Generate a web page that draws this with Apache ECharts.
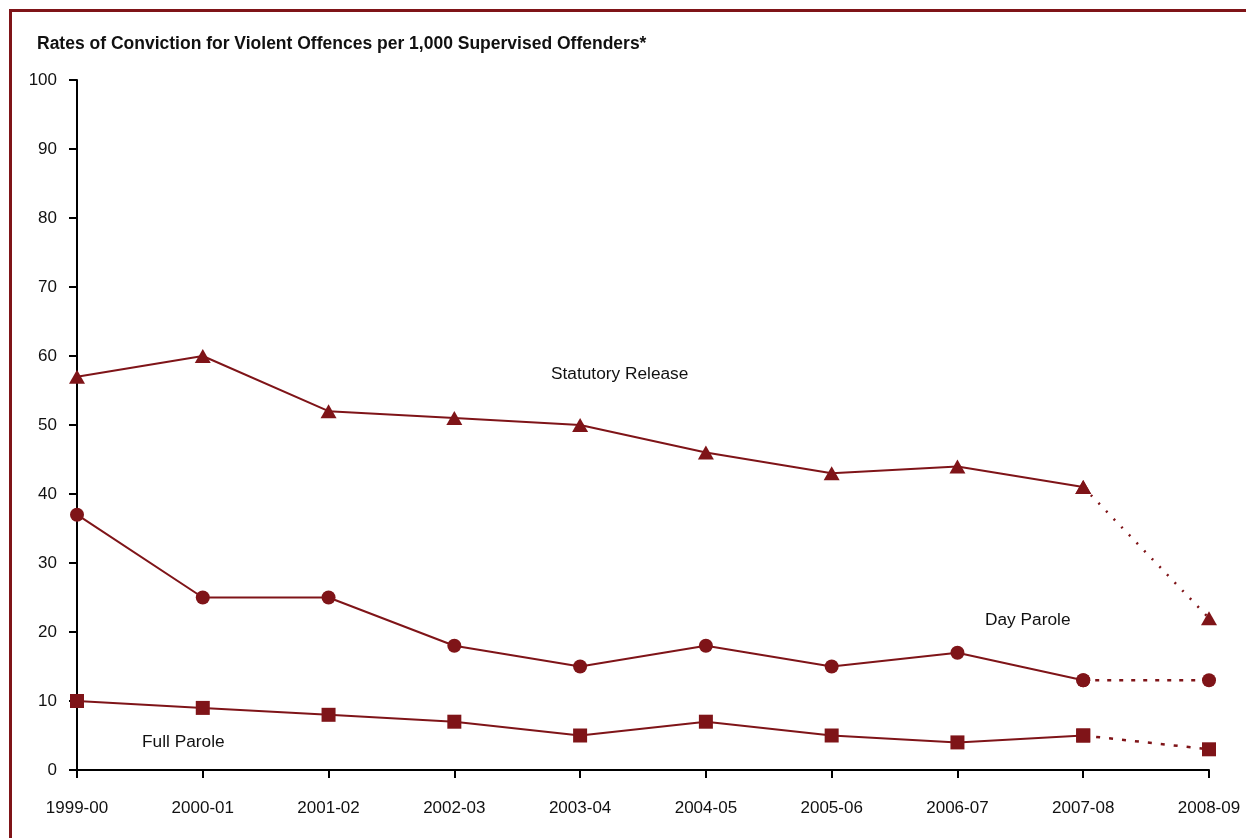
<!DOCTYPE html>
<html><head><meta charset="utf-8">
<script src="https://cdn.jsdelivr.net/npm/echarts@6/dist/echarts.min.js"></script>
<style>html,body{margin:0;padding:0;background:#fff}#c{width:1246px;height:838px}</style>
</head><body><div id="c"></div>
<script>
const categories = ['1999-00','2000-01','2001-02','2002-03','2003-04','2004-05','2005-06','2006-07','2007-08','2008-09'];
const statutoryRelease = [57, 60, 52, 51, 50, 46, 43, 44, 41, 22];
const dayParole = [37, 25, 25, 18, 15, 18, 15, 17, 13, 13];
const fullParole = [10, 9, 8, 7, 5, 7, 5, 4, 5, 3];
const yTicks = [0,10,20,30,40,50,60,70,80,90,100];

const C = '#7f1418';
const FONT = '"Liberation Sans", Arial, sans-serif';
const solid = a => a.map((v,i)=> i < a.length-1 ? v : null);
const dotted = a => a.map((v,i)=> i >= a.length-2 ? v : null);

function mk(name, arr, symbol, size, dash){
  return [
    {name, type:'line', data: solid(arr), symbol, symbolSize:size, showAllSymbol:true,
     lineStyle:{color:C,width:2}, itemStyle:{color:C}, connectNulls:false, z:3},
    {name: name+' (dotted)', type:'line', data: dotted(arr), symbol, symbolSize:size, showAllSymbol:true,
     lineStyle:{color:C,width:2.5,type:dash}, itemStyle:{color:C}, z:2}
  ];
}

const chart = echarts.init(document.getElementById('c'), null, {renderer:'canvas'});
chart.setOption({
  animation:false,
  backgroundColor:'#fff',
  grid:{left:77, right:37, top:80, bottom:68, containLabel:false},
  xAxis:{type:'category', data:categories, boundaryGap:false,
    axisLine:{lineStyle:{color:'#000',width:2}},
    axisTick:{show:true, alignWithLabel:true, length:8, inside:false, lineStyle:{color:'#000',width:2}},
    axisLabel:{color:'#111', fontFamily:FONT, fontSize:17, margin:30},
    splitLine:{show:false}},
  yAxis:{type:'value', min:yTicks[0], max:yTicks[yTicks.length-1], interval:10,
    axisLine:{show:true, lineStyle:{color:'#000',width:2}},
    axisTick:{show:true, length:8, lineStyle:{color:'#000',width:2}},
    axisLabel:{color:'#111', fontFamily:FONT, fontSize:17, margin:20},
    splitLine:{show:false}},
  series:[
    ...mk('Statutory Release', statutoryRelease, 'triangle', [16,14], [2,9]),
    ...mk('Day Parole', dayParole, 'circle', 14, [4,8]),
    ...mk('Full Parole', fullParole, 'rect', 14, [4,9])
  ],
  graphic:[
    {type:'rect', silent:true, shape:{x:10.5, y:10.5, width:1400, height:1000},
     style:{fill:null, stroke:C, lineWidth:3}},
    {type:'text', left:37, top:35, style:{text:'Rates of Conviction for Violent Offences per 1,000 Supervised Offenders*',
      font:'bold 17.5px '+FONT, fill:'#111'}},
    {type:'text', left:551, top:366, style:{text:'Statutory Release', font:'17.3px '+FONT, fill:'#111'}},
    {type:'text', left:985, top:612, style:{text:'Day Parole', font:'17.3px '+FONT, fill:'#111'}},
    {type:'text', left:142, top:734, style:{text:'Full Parole', font:'17.3px '+FONT, fill:'#111'}}
  ]
});
</script></body></html>
